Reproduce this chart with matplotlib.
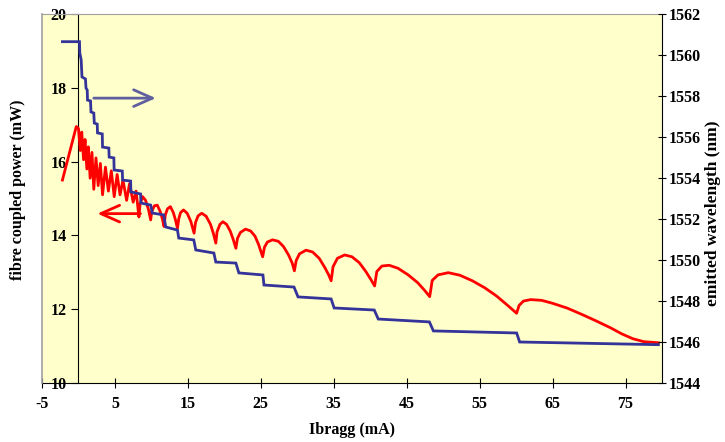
import matplotlib
matplotlib.use("Agg")
import matplotlib.pyplot as plt

# ---- data ----
power_x = [-2.2, -0.3, 0.0, 0.25, 0.45, 0.7, 0.9, 1.15, 1.35, 1.6, 1.85, 2.1, 2.4, 2.7, 3.0,
           3.3, 3.7, 4.1, 4.5, 4.9, 5.3, 5.7, 6.1, 6.6, 7.0, 7.5, 7.9, 8.29,
           8.45, 8.8, 9.2, 9.6, 9.9,
           10.05, 10.4, 10.8, 11.2, 11.5, 11.73,
           11.9, 12.2, 12.6, 13.0, 13.3, 13.57,
           13.75, 14.0, 14.4, 14.9, 15.4, 15.85,
           16.05, 16.4, 16.9, 17.5, 18.1, 18.5, 18.83,
           19.0, 19.4, 19.8, 20.3, 20.8, 21.2, 21.58,
           21.8, 22.2, 22.9, 23.6, 24.2, 24.7, 25.25,
           25.5, 25.9, 26.6, 27.4, 28.1, 28.8, 29.3, 29.6,
           29.85, 30.3, 31.2, 32.1, 33.0, 33.8, 34.3, 34.64,
           34.9, 35.5, 36.5, 37.5, 38.5, 39.4, 40.1, 40.6,
           40.9, 41.6, 42.6, 43.8, 45.2, 46.5, 47.5, 48.15,
           48.5, 49.3, 50.7, 52.3, 54.0, 55.7, 57.3, 58.8, 60.07,
           60.4, 61.0, 62.0, 63.5, 65.0, 67.0, 69.0, 71.0, 73.0, 74.5, 76.0, 77.5, 79.5]
power_mw = [15.50, 16.95, 16.90, 16.30, 16.80, 16.05, 16.60, 15.80, 16.40, 15.55, 16.25, 15.25,
            16.10, 15.35, 15.95, 15.10, 15.85, 15.20, 15.75, 15.05, 15.65, 15.10, 15.50, 14.95,
            15.40, 14.90, 15.20, 14.50,
            14.85, 15.05, 14.95, 14.70, 14.42,
            14.65, 14.80, 14.82, 14.65, 14.45, 14.24,
            14.55, 14.72, 14.78, 14.62, 14.42, 14.19,
            14.45, 14.62, 14.69, 14.60, 14.38, 14.06,
            14.35, 14.53, 14.60, 14.52, 14.30, 14.05, 13.79,
            14.10, 14.30, 14.37, 14.30, 14.12, 13.90, 13.65,
            13.92, 14.08, 14.17, 14.12, 13.98, 13.75, 13.42,
            13.68, 13.82, 13.88, 13.84, 13.70, 13.47, 13.25, 13.04,
            13.32, 13.50, 13.60, 13.55, 13.38, 13.12, 12.93, 12.77,
            13.15, 13.38, 13.47, 13.42, 13.26, 13.02, 12.80, 12.63,
            13.02, 13.17, 13.19, 13.11, 12.93, 12.72, 12.50, 12.34,
            12.78, 12.93, 12.99, 12.92, 12.77, 12.58, 12.36, 12.11, 11.89,
            12.10, 12.22, 12.26, 12.24, 12.16, 12.03, 11.86, 11.68, 11.49, 11.33, 11.20, 11.12, 11.09]

wl_x = [-2.2, 0.14, 0.18, 0.37, 0.48, 0.96, 1.03, 1.20, 1.24, 1.65, 1.72, 2.10, 2.17, 2.57,
        2.61, 3.26, 3.30, 4.16, 4.21, 4.85, 4.89, 6.01, 6.05, 7.15, 7.19, 8.52, 8.56, 9.90,
        10.13, 11.68, 11.96, 13.57, 13.75, 15.81, 16.08, 18.56, 18.83, 21.58, 21.99, 25.29,
        25.43, 29.55, 30.10, 34.64, 35.05, 40.55, 41.10, 48.11, 48.66, 60.07, 60.48, 79.5]
wl_nm = [1560.65, 1560.65, 1560.10, 1559.76, 1558.93, 1558.83, 1558.39, 1558.29, 1557.80,
         1557.76, 1557.22, 1557.17, 1556.68, 1556.63, 1556.20, 1556.15, 1555.51, 1555.46,
         1555.02, 1554.98, 1554.39, 1554.34, 1553.90, 1553.85, 1553.32, 1553.22, 1552.78,
         1552.68, 1552.29, 1552.20, 1551.61, 1551.46, 1551.07, 1550.98, 1550.49, 1550.34,
         1549.90, 1549.85, 1549.37, 1549.27, 1548.78, 1548.68, 1548.20, 1548.10, 1547.66,
         1547.56, 1547.12, 1546.98, 1546.54, 1546.44, 1546.00, 1545.87]

x_ticks = [-5, 5, 15, 25, 35, 45, 55, 65, 75]
power_ticks = [10, 12, 14, 16, 18, 20]
wl_ticks = [1544, 1546, 1548, 1550, 1552, 1554, 1556, 1558, 1560, 1562]

FONT = "Liberation Serif"
plt.rcParams["font.family"] = [FONT, "DejaVu Serif"]
plt.rcParams["font.weight"] = "bold"
plt.rcParams["axes.unicode_minus"] = False

W, H = 725, 442
fig = plt.figure(figsize=(W/100, H/100), dpi=100)
ax = fig.add_axes([42/W, 1-383/H, (662-42)/W, (383-14)/H])
ax.set_facecolor("#FFFFCC")
ax.set_xlim(-5, 80)
ax.set_ylim(10, 20)

ax.plot(power_x, power_mw, color="#FF0000", lw=2.0, solid_joinstyle="round", zorder=3)

ax.spines["left"].set_position(("data", 0))
ax.spines["left"].set_color("black")
ax.spines["bottom"].set_color("black")
ax.spines["top"].set_color("#A0A0A0")
ax.spines["right"].set_visible(False)
ax.plot([0, 0], [0, 1], transform=ax.transAxes, color="#A0A0A0", lw=1.2, clip_on=False, zorder=5)

ax.set_xticks(x_ticks)
ax.set_yticks(power_ticks)
ax.tick_params(axis="x", direction="inout", length=7, labelsize=11.5, pad=6)
ax.tick_params(axis="y", direction="out", length=5, labelsize=11.5, pad=3.5)
for lab in ax.get_xticklabels() + ax.get_yticklabels():
    lab.set_fontweight("bold")

fig.text(352/W, 1-430/H, "Ibragg (mA)", fontsize=11.5, fontweight="bold", ha="center", va="center")
fig.text(18/W, 1-190/H, "fibre coupled power (mW)", fontsize=11.5, fontweight="bold",
         ha="center", va="center", rotation=90)
fig.text(713/W, 1-213/H, "emitted wavelength (nm)", fontsize=12.5, fontweight="bold",
         ha="center", va="center", rotation=90)

# arrows
ax.annotate("", xy=(10.6, 17.72), xytext=(2.1, 17.72),
            arrowprops=dict(arrowstyle="->,head_length=0.9,head_width=0.4", color="#5F5F9F",
                            lw=2.0, mutation_scale=15, shrinkA=0, shrinkB=0), zorder=6)
ax.annotate("", xy=(2.6, 14.59), xytext=(8.5, 14.59),
            arrowprops=dict(arrowstyle="->,head_length=0.9,head_width=0.4", color="#FF0000",
                            lw=2.0, mutation_scale=15, shrinkA=0, shrinkB=0), zorder=6)

ax2 = ax.twinx()
ax2.set_ylim(1544, 1562)
ax2.plot(wl_x, wl_nm, color="#333399", lw=2.0, solid_joinstyle="miter", zorder=3)
for s in ["left", "top", "bottom"]:
    ax2.spines[s].set_visible(False)
ax2.spines["right"].set_color("black")
ax2.set_yticks(wl_ticks)
ax2.tick_params(axis="y", direction="inout", length=6, labelsize=11.5, pad=2)
for lab in ax2.get_yticklabels():
    lab.set_fontweight("bold")

fig.savefig("out.png", dpi=100)
